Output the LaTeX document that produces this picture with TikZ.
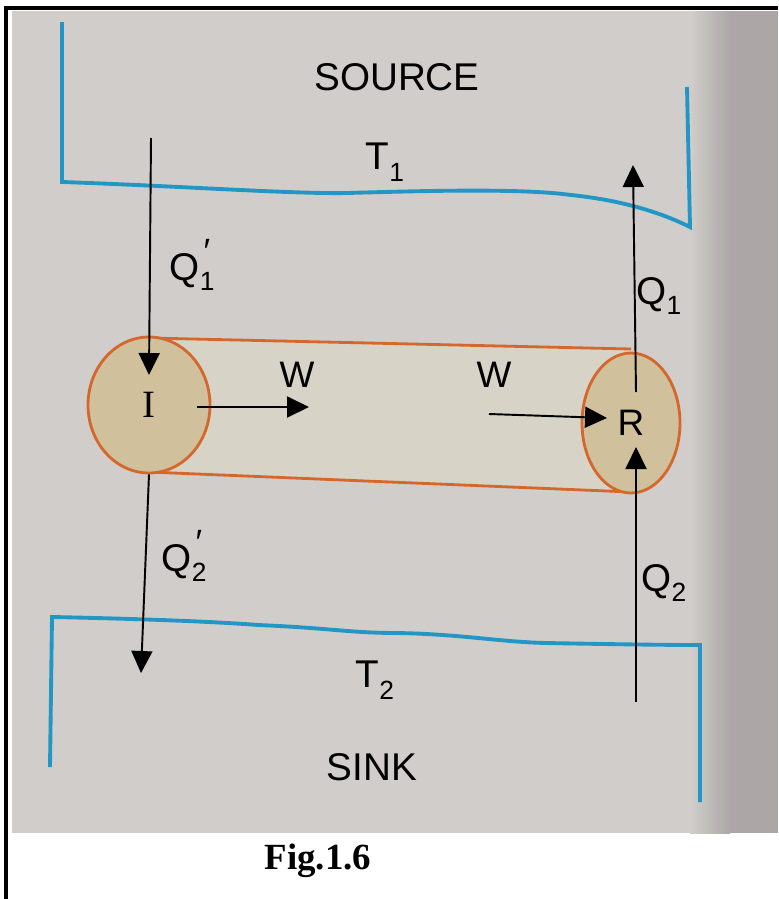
\documentclass[tikz,border=0pt]{standalone}
\usepackage{fontspec}
\setmainfont{Liberation Sans}
\newfontfamily\figserif{Liberation Serif}
\usetikzlibrary{arrows.meta,shapes.geometric}
\definecolor{paper}{RGB}{208,205,202}
\definecolor{gutter}{RGB}{172,167,166}
\definecolor{reservoir}{RGB}{34,150,196}
\definecolor{rim}{RGB}{212,104,44}
\definecolor{disc}{RGB}{208,192,156}
\definecolor{tubefill}{RGB}{216,211,199}
% heat with a prime above the subscript
\newcommand\heatp[1]{Q\raisebox{-0.25em}{\fontsize{15}{15}\selectfont #1}\kern-0.28em\raisebox{0.45em}{\fontsize{20}{20}\selectfont ′}}
\newcommand\heat[1]{Q\raisebox{-0.25em}{\fontsize{15}{15}\selectfont #1}}
\tikzset{
  bigtext/.style={font=\fontsize{22}{26}\selectfont},
  wtext/.style={font=\fontsize{21}{24}\selectfont},
  engine/.style={ellipse, draw=rim, fill=disc, line width=1.6pt, inner sep=0pt},
  wall/.style={draw=reservoir, line width=2.2pt},
}
\begin{document}
\begin{tikzpicture}[x=0.02cm, y=-0.02cm, >={Triangle[length=0.44cm,width=0.42cm]}, line width=1.1pt]
    \useasboundingbox (0,0) rectangle (778,899);
    \fill[white] (0,0) rectangle (778,899);
    \fill[paper] (12,11) rectangle (778,833);
    \shade[left color=paper, right color=gutter] (690,11) rectangle (730,833);
    \fill[gutter] (730,11) rectangle (778,833);
    \draw[line width=2.2pt] (6,899) -- (6,8) -- (778,8);

    % reservoirs
    \draw[wall] (62,22) -- (62,182) .. controls (180,186) and (290,194) .. (347,193)
        .. controls (420,191) and (520,188) .. (571,195)
        .. controls (620,200) and (660,212) .. (690,227) -- (687,87);
    \draw[wall] (50,767) -- (52,617) .. controls (150,619) and (220,622) .. (258,625)
        .. controls (330,628) and (350,633) .. (397,633)
        .. controls (460,634) and (500,642) .. (546,643)
        .. controls (600,644) and (660,645) .. (700,645) -- (700,802);
    \node[bigtext] (source) at (397,77) {SOURCE};
    \node[bigtext] (t1) at (385,162) {T\raisebox{-0.3em}{\fontsize{15}{15}\selectfont 1}};
    \node[bigtext] (t2) at (375,680) {T\raisebox{-0.3em}{\fontsize{15}{15}\selectfont 2}};
    \node[bigtext] (sink) at (372,767) {SINK};

    % tube between the engines
    \coordinate (tubeTL) at (149,338);
    \coordinate (tubeTR) at (631,349);
    \coordinate (tubeBR) at (631,492);
    \coordinate (tubeBL) at (149,472);
    \fill[tubefill] (tubeTL) -- (tubeTR) -- (tubeBR) -- (tubeBL) -- cycle;
    \draw[rim, line width=1.6pt] (tubeTL) -- (tubeTR);
    \draw[rim, line width=1.6pt] (tubeBL) -- (tubeBR);
    \node[engine, minimum width=2.44cm, minimum height=2.72cm] (engI) at (149,405)
        {\figserif\fontsize{22}{24}\selectfont I};
    \node[engine, minimum width=1.96cm, minimum height=2.8cm] (engR) at (631,423)
        {\fontsize{21}{24}\selectfont R};

    % heat flows
    \coordinate (inTop) at (151,138);
    \coordinate (inTip) at (149,375);
    \coordinate (outTip) at (141,673);
    \coordinate (upStart) at (636,392);
    \coordinate (upTip) at (633,165);
    \coordinate (lowStart) at (636,702);
    \coordinate (lowTip) at (636,447);
    \draw[->] (inTop) -- (inTip);
    \draw[->] (engI.south) -- (outTip);
    \draw[->] (upStart) -- (upTip);
    \draw[->] (lowStart) -- (lowTip);
    \node[bigtext] (q1p) at (190,265) {\heatp{1}};
    \node[bigtext] (q2p) at (182,556) {\heatp{2}};
    \node[bigtext] (q1) at (659,296) {\heat{1}};
    \node[bigtext] (q2) at (664,583) {\heat{2}};

    % work
    \coordinate (wIstart) at (197,407);
    \coordinate (wItip) at (309,407);
    \coordinate (wRstart) at (489,414);
    \coordinate (wRtip) at (607,418);
    \draw[->] (wIstart) -- (wItip);
    \draw[->] (wRstart) -- (wRtip);
    \node[wtext] (wI) at (297,375) {W};
    \node[wtext] (wR) at (494,375) {W};

    \node[font=\figserif\bfseries\fontsize{21}{24}\selectfont] (caption) at (318,861) {Fig.1.6};
\end{tikzpicture}
\end{document}
